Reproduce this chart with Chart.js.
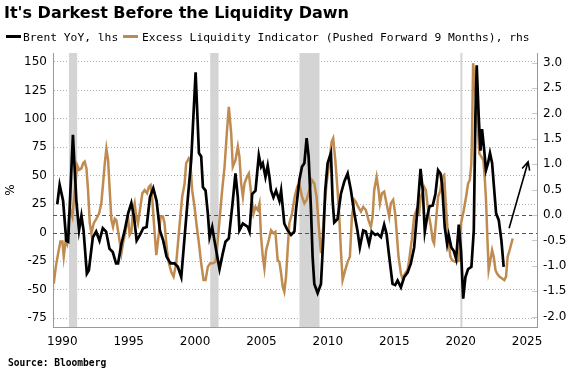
<!DOCTYPE html>
<html>
<head>
<meta charset="utf-8">
<script src="https://cdn.jsdelivr.net/npm/chart.js@4.4.0/dist/chart.umd.min.js"></script>
<style>
  html, body { margin: 0; padding: 0; background: #fff; }
  #wrap { position: relative; width: 580px; height: 372px; overflow: hidden; }
  #chart { position: absolute; left: 0; top: 0; }
  .title { position: absolute; left: 4px; top: 3px; font: bold 16px "DejaVu Sans", sans-serif; color: #000; white-space: nowrap; }
  .leg { position: absolute; top: 31px; font: 11.3px "DejaVu Sans Mono", monospace; color: #000; white-space: nowrap; }
  .sw { position: absolute; top: 35px; width: 15px; height: 3px; }
  .source { position: absolute; left: 8px; top: 357px; font: bold 9.6px "DejaVu Sans Mono", monospace; color: #000; white-space: nowrap; }
</style>
</head>
<body>
<div id="wrap">
  <canvas id="chart" width="580" height="372"></canvas>
  <div class="title">It's Darkest Before the Liquidity Dawn</div>
  <div class="sw" style="left:6px;background:#000"></div>
  <div class="leg" style="left:23px">Brent YoY, lhs</div>
  <div class="sw" style="left:123px;background:#b98c55"></div>
  <div class="leg" style="left:142px">Excess Liquidity Indicator (Pushed Forward 9 Months), rhs</div>
  <div class="source">Source: Bloomberg</div>
</div>
<script>
// valores
const brentYears = [1989.62, 1989.8, 1990.06, 1990.3, 1990.44, 1990.8, 1991.06, 1991.26, 1991.44, 1991.6, 1991.85, 1992.0,
  1992.3, 1992.55, 1992.8, 1993.05, 1993.3, 1993.55, 1993.8, 1994.05, 1994.2, 1994.45, 1994.7, 1994.96,
  1995.2, 1995.4, 1995.6, 1995.85, 1996.1, 1996.35, 1996.6, 1996.85, 1997.1, 1997.35, 1997.6, 1997.85,
  1998.15, 1998.45, 1998.7, 1998.96, 1999.21, 1999.46, 1999.71, 2000.04, 2000.29, 2000.46, 2000.59, 2000.79,
  2000.96, 2001.09, 2001.29, 2001.46, 2001.84, 2002.09, 2002.29, 2002.54, 2002.84, 2003.04, 2003.22, 2003.34,
  2003.6, 2003.97, 2004.1, 2004.3, 2004.55, 2004.8, 2004.97, 2005.1, 2005.3, 2005.47, 2005.6, 2005.72,
  2005.9, 2006.1, 2006.35, 2006.48, 2006.72, 2006.97, 2007.23, 2007.48, 2007.6, 2007.85, 2008.05, 2008.23,
  2008.4, 2008.55, 2008.73, 2008.85, 2008.98, 2009.23, 2009.48, 2009.66, 2009.8, 2009.98, 2010.23, 2010.36,
  2010.48, 2010.73, 2010.98, 2011.24, 2011.49, 2011.74, 2011.99, 2012.24, 2012.41, 2012.66, 2012.86, 2013.1,
  2013.3, 2013.57, 2013.74, 2014.0, 2014.24, 2014.42, 2014.62, 2014.87, 2015.07, 2015.25, 2015.5, 2015.75,
  2016.0, 2016.25, 2016.5, 2016.8, 2016.98, 2017.15, 2017.3, 2017.48, 2017.65, 2017.9, 2018.1, 2018.3,
  2018.48, 2018.6, 2018.8, 2018.98, 2019.1, 2019.3, 2019.48, 2019.66, 2019.86, 2020.03, 2020.19, 2020.36,
  2020.56, 2020.81, 2020.99, 2021.11, 2021.21, 2021.36, 2021.49, 2021.61, 2021.76, 2021.91, 2022.06, 2022.21,
  2022.37, 2022.49, 2022.67, 2022.87, 2023.07, 2023.24];
const brentValues = [25, 42, 28, -7, -8, 86, 28, 2, 15, 2, -36, -33,
  -4, 1, -7, 4, 1, -14, -17, -27, -27, -10, 2, 17,
  26, 14, -7, -2, 4, 5, 31, 39, 28, 2, -7, -21,
  -27, -27, -30, -39, -4, 31, 64, 141, 70, 67, 40, 37,
  17, -4, 5, -7, -32, -18, -8, -5, 28, 52, 31, 2,
  8, 5, 1, 34, 37, 68, 58, 61, 49, 59, 49, 37,
  31, 37, 28, 37, 8, 2, -2, 1, 20, 46, 58, 61,
  83, 67, 20, -21, -45, -53, -45, -4, 37, 61, 70, 28,
  9, 12, 34, 45, 52, 37, 17, 1, -13, 2, 1, -10,
  1, -2, -1, -4, 7, -1, -21, -45, -46, -42, -48, -39,
  -35, -27, -13, 28, 56, 37, 1, 14, 23, 24, 34, 55,
  52, 43, 5, -10, -2, -13, -16, -23, 7, -16, -58, -39,
  -32, -30, 2, 102, 147, 102, 72, 91, 74, 55, 61, 70,
  61, 43, 17, 11, -7, -30];

const liqYears = [1989.36, 1989.51, 1989.69, 1989.86, 1990.01, 1990.11, 1990.26, 1990.36, 1990.51, 1990.61, 1990.76, 1990.94,
  1991.12, 1991.27, 1991.44, 1991.57, 1991.69, 1991.82, 1991.94, 1992.07, 1992.19, 1992.37, 1992.57, 1992.77,
  1992.94, 1993.07, 1993.2, 1993.32, 1993.45, 1993.57, 1993.7, 1993.82, 1993.95, 1994.07, 1994.27, 1994.45,
  1994.57, 1994.77, 1994.95, 1995.07, 1995.2, 1995.33, 1995.45, 1995.57, 1995.7, 1995.88, 1996.03, 1996.2,
  1996.38, 1996.53, 1996.65, 1996.78, 1996.9, 1997.08, 1997.26, 1997.41, 1997.58, 1997.7, 1997.88, 1998.03,
  1998.21, 1998.38, 1998.58, 1998.83, 1999.03, 1999.21, 1999.33, 1999.53, 1999.63, 1999.78, 1999.96, 2000.13,
  2000.29, 2000.46, 2000.64, 2000.79, 2000.96, 2001.14, 2001.34, 2001.54, 2001.71, 2001.84, 2002.04, 2002.22,
  2002.39, 2002.54, 2002.72, 2002.84, 2003.04, 2003.22, 2003.34, 2003.47, 2003.6, 2003.72, 2003.9, 2004.05,
  2004.22, 2004.4, 2004.55, 2004.72, 2004.85, 2004.97, 2005.1, 2005.22, 2005.35, 2005.55, 2005.72, 2005.9,
  2006.05, 2006.22, 2006.35, 2006.48, 2006.6, 2006.72, 2006.85, 2006.97, 2007.1, 2007.3, 2007.5, 2007.7,
  2007.85, 2008.05, 2008.23, 2008.4, 2008.6, 2008.8, 2008.98, 2009.15, 2009.3, 2009.48, 2009.6, 2009.73,
  2009.9, 2010.1, 2010.28, 2010.4, 2010.56, 2010.73, 2010.86, 2010.98, 2011.11, 2011.31, 2011.49, 2011.66,
  2011.81, 2011.99, 2012.11, 2012.29, 2012.49, 2012.66, 2012.86, 2013.06, 2013.24, 2013.37, 2013.49, 2013.67,
  2013.82, 2013.92, 2014.07, 2014.24, 2014.42, 2014.62, 2014.74, 2014.92, 2015.07, 2015.17, 2015.32, 2015.5,
  2015.62, 2015.82, 2016.0, 2016.12, 2016.32, 2016.5, 2016.68, 2016.87, 2017.0, 2017.26, 2017.38, 2017.58,
  2017.76, 2017.9, 2018.0, 2018.15, 2018.3, 2018.48, 2018.6, 2018.76, 2018.86, 2018.98, 2019.1, 2019.23,
  2019.36, 2019.61, 2019.86, 2020.03, 2020.24, 2020.41, 2020.56, 2020.69, 2020.8, 2020.86, 2020.94, 2021.06,
  2021.24, 2021.41, 2021.56, 2021.71, 2021.81, 2021.91, 2022.01, 2022.11, 2022.24, 2022.37, 2022.49, 2022.62,
  2022.74, 2022.92, 2023.12, 2023.29, 2023.42, 2023.54, 2023.69, 2023.82, 2023.92];
const liqValues = [-1.35, -1.02, -0.75, -0.52, -0.52, -0.82, -0.49, -0.56, -0.03, 0.1, -0.03, 0.49,
  0.98, 0.89, 0.92, 1.02, 1.05, 0.92, 0.49, -0.16, -0.36, -0.16, -0.07, 0.03,
  0.23, 0.62, 1.02, 1.31, 1.08, 0.49, -0.1, -0.23, -0.07, -0.1, -0.43, -0.75,
  -0.56, -0.3, -0.03, -0.39, -0.33, 0.1, 0.23, -0.03, -0.16, 0.16, 0.43, 0.49,
  0.43, 0.56, 0.59, 0.3, -0.16, -0.79, -0.39, -0.03, -0.03, -0.16, -0.69, -0.95,
  -1.12, -1.21, -0.95, -0.2, 0.36, 0.62, 1.02, 1.12, 1.08, 0.49, 0.16, -0.23,
  -0.56, -0.95, -1.28, -1.28, -1.02, -0.95, -0.95, -0.92, -0.49, -0.1, 0.49, 0.95,
  1.61, 2.13, 1.61, 0.95, 1.08, 1.35, 1.15, 0.62, 0.36, 0.62, 0.75, 0.82,
  0.43, 0.03, 0.16, 0.1, 0.23, -0.43, -0.82, -1.05, -0.69, -0.49, -0.3, -0.36,
  -0.33, -0.89, -0.92, -1.15, -1.41, -1.51, -1.21, -0.69, -0.16, 0.03, 0.36, 0.56,
  0.62, 0.36, 0.23, 0.3, 0.49, 0.69, 0.62, 0.36, -0.16, -0.75, -0.43, 0.1,
  0.62, 1.02, 1.44, 1.51, 1.08, 0.49, -0.03, -0.69, -1.28, -1.08, -0.92, -0.82,
  -0.03, 0.3, 0.26, 0.16, 0.07, 0.16, 0.1, -0.1, -0.23, -0.03, 0.49, 0.75,
  0.49, 0.23, 0.43, 0.46, 0.23, -0.03, 0.23, 0.3, 0.03, -0.3, -0.82, -1.15,
  -1.25, -1.15, -1.08, -0.89, -0.49, -0.03, 0.1, 0.03, 0.36, 0.55, 0.49, 0.04,
  -0.23, -0.5, -0.56, -0.1, 0.36, 0.49, 0.75, 0.79, 0.3, -0.16, -0.56, -0.82,
  -0.89, -0.92, -0.9, -0.16, 0.1, 0.36, 0.62, 0.69, 1.0, 1.61, 2.99, 2.59,
  1.94, 1.21, 1.15, 1.08, 0.75, 0.3, -0.43, -1.08, -0.89, -0.69, -0.82, -1.08,
  -1.15, -1.21, -1.25, -1.28, -1.21, -0.82, -0.69, -0.56, -0.46];

const xTicks = [1990, 1995, 2000, 2005, 2010, 2015, 2020, 2025];
const leftTicks = [-75, -50, -25, 0, 25, 50, 75, 100, 125, 150];
const rightTicks = [-2.0, -1.5, -1.0, -0.5, 0.0, 0.5, 1.0, 1.5, 2.0, 2.5, 3.0];
const recessions = [[1990.5, 1991.12], [2001.14, 2001.77], [2007.86, 2009.37], [2019.98, 2020.12]];
const arrowYears = [2023.65, 2025.08];
const arrowValues = [-0.26, 1.05]; // eixo da direita

const pairs = (xs, ys) => xs.map((x, i) => ({ x: x, y: ys[i] }));

// barras de recessao, linhas do zero, marcas do eixo direito e a seta
const extras = {
  id: 'extras',
  beforeDatasetsDraw(chart) {
    const { ctx, chartArea: a, scales } = chart;
    ctx.save();
    ctx.fillStyle = '#d4d4d4';
    recessions.forEach(([s, e]) => {
      const x1 = scales.x.getPixelForValue(s);
      const x2 = scales.x.getPixelForValue(e);
      ctx.fillRect(x1, a.top, Math.max(x2 - x1, 2), a.bottom - a.top);
    });
    ctx.strokeStyle = '#555';
    ctx.lineWidth = 1;
    ctx.setLineDash([4, 3]);
    [scales.yL.getPixelForValue(0), scales.yR.getPixelForValue(0)].forEach(y => {
      ctx.beginPath();
      ctx.moveTo(a.left, Math.round(y) + 0.5);
      ctx.lineTo(a.right, Math.round(y) + 0.5);
      ctx.stroke();
    });
    ctx.setLineDash([]);
    ctx.strokeStyle = '#c8c8c8';
    rightTicks.forEach(v => {
      const y = Math.round(scales.yR.getPixelForValue(v)) + 0.5;
      ctx.beginPath();
      ctx.moveTo(a.right - 5, y);
      ctx.lineTo(a.right, y);
      ctx.stroke();
    });
    ctx.restore();
  },
  afterDatasetsDraw(chart) {
    const { ctx, scales } = chart;
    const x1 = scales.x.getPixelForValue(arrowYears[0]);
    const y1 = scales.yR.getPixelForValue(arrowValues[0]);
    const x2 = scales.x.getPixelForValue(arrowYears[1]);
    const y2 = scales.yR.getPixelForValue(arrowValues[1]);
    const ang = Math.atan2(y2 - y1, x2 - x1);
    const h = 9;
    ctx.save();
    ctx.strokeStyle = '#000';
    ctx.lineWidth = 1.6;
    ctx.beginPath();
    ctx.moveTo(x1, y1);
    ctx.lineTo(x2, y2);
    ctx.moveTo(x2 - h * Math.cos(ang - 0.45), y2 - h * Math.sin(ang - 0.45));
    ctx.lineTo(x2, y2);
    ctx.lineTo(x2 - h * Math.cos(ang + 0.45), y2 - h * Math.sin(ang + 0.45));
    ctx.stroke();
    ctx.restore();
  }
};

Chart.defaults.font.family = '"DejaVu Sans", sans-serif';
Chart.defaults.color = '#000';

new Chart(document.getElementById('chart').getContext('2d'), {
  type: 'line',
  data: {
    datasets: [
      {
        label: 'Brent YoY, lhs',
        data: pairs(brentYears, brentValues),
        yAxisID: 'yL',
        borderColor: '#000',
        borderWidth: 2.7,
        pointRadius: 0,
        tension: 0
      },
      {
        label: 'Excess Liquidity Indicator (Pushed Forward 9 Months), rhs',
        data: pairs(liqYears, liqValues),
        yAxisID: 'yR',
        borderColor: '#bf8b50',
        borderWidth: 2.5,
        pointRadius: 0,
        tension: 0
      }
    ]
  },
  options: {
    responsive: false,
    animation: false,
    events: [],
    layout: { padding: { top: 53, left: 0, right: 0, bottom: 0 } },
    plugins: { legend: { display: false }, tooltip: { enabled: false } },
    scales: {
      x: {
        type: 'linear',
        min: 1989.3,
        max: 2025.75,
        afterBuildTicks: s => { s.ticks = xTicks.map(v => ({ value: v })); },
        afterFit: s => { s.height = 45; },
        grid: { display: false, drawTicks: false },
        border: { color: '#999' },
        ticks: { padding: 8, maxRotation: 0, autoSkip: false, font: { size: 12 }, callback: v => String(v) }
      },
      yL: {
        position: 'left',
        min: -82.9,
        max: 157.9,
        afterBuildTicks: s => { s.ticks = leftTicks.map(v => ({ value: v })); },
        afterFit: s => { s.width = 53; },
        grid: {
          drawTicks: false,
          lineWidth: 1,
          color: c => (c.tick && c.tick.value === 0) ? 'rgba(0,0,0,0)' : '#b0b0b0'
        },
        border: { color: '#999', dash: [1, 2] },
        ticks: { padding: 6, font: { size: 12 } },
        title: { display: true, text: '%', font: { size: 12 }, padding: { top: 4, bottom: 0 } }
      },
      yR: {
        position: 'right',
        min: -2.203,
        max: 3.19,
        afterBuildTicks: s => { s.ticks = rightTicks.map(v => ({ value: v })); },
        afterFit: s => { s.width = 43; },
        grid: { drawOnChartArea: false, drawTicks: false },
        border: { color: '#999' },
        ticks: { padding: 6, font: { size: 12 }, callback: v => v.toFixed(1) }
      }
    }
  },
  plugins: [extras]
});
</script>
</body>
</html>
